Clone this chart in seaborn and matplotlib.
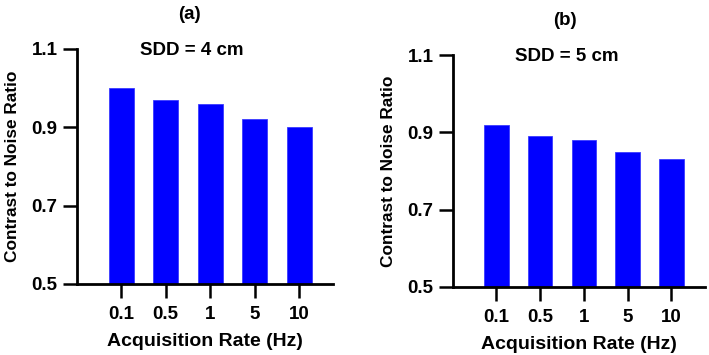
import matplotlib
matplotlib.use("Agg")
import matplotlib.pyplot as plt
import pandas as pd
import seaborn as sns

# Data
rates = ["0.1", "0.5", "1", "5", "10"]
cnr_sdd4 = [1.00, 0.97, 0.96, 0.92, 0.90]
cnr_sdd5 = [0.92, 0.89, 0.88, 0.85, 0.83]
yticks = [0.5, 0.7, 0.9, 1.1]

sns.set_theme(style="ticks")
plt.rcParams["font.family"] = ["Liberation Sans", "DejaVu Sans"]
plt.rcParams["font.weight"] = "bold"
plt.rcParams["text.color"] = "black"
plt.rcParams["axes.labelcolor"] = "black"
plt.rcParams["xtick.color"] = "black"
plt.rcParams["ytick.color"] = "black"

fig = plt.figure(figsize=(7.09, 3.55), dpi=100)
ax_a = fig.add_axes([0.1086, 0.200, 0.361, 0.662])
ax_b = fig.add_axes([0.639, 0.192, 0.355, 0.653])

panels = [
    (ax_a, cnr_sdd4, "SDD = 4 cm", "(a)", 0.267, 0.958),
    (ax_b, cnr_sdd5, "SDD = 5 cm", "(b)", 0.797, 0.942),
]

for ax, values, subtitle, letter, lx, ly in panels:
    df = pd.DataFrame({"rate": rates, "cnr": values})
    sns.barplot(data=df, x="rate", y="cnr", order=rates, color="#0000ff",
                saturation=1, width=0.56, edgecolor="#3a3aff", linewidth=0.6, ax=ax)
    ax.set_ylim(0.5, 1.1)
    ax.set_xlim(-0.99, 4.76)
    ax.set_yticks(yticks)
    ax.set_yticklabels([f"{t:.1f}" for t in yticks], fontsize=13.5, fontweight="bold")
    ax.set_xticks(range(len(rates)))
    ax.set_xticklabels(rates, fontsize=13.5, fontweight="bold")
    ax.set_xlabel("Acquisition Rate (Hz)", fontsize=14, fontweight="bold", labelpad=7)
    ax.set_ylabel("Contrast to Noise Ratio", fontsize=12.4, fontweight="bold", labelpad=8)
    ax.tick_params(axis="y", direction="out", length=10, width=1.8, color="black", pad=4)
    ax.tick_params(axis="x", direction="out", length=10, width=1.8, color="black", pad=6)
    for side in ["left", "bottom"]:
        ax.spines[side].set_linewidth(2)
        ax.spines[side].set_color("black")
    sns.despine(ax=ax)
    ax.text(0.45, 0.995, subtitle, transform=ax.transAxes, ha="center", va="center",
            fontsize=13.5, fontweight="bold")
    fig.text(lx, ly, letter, ha="center", va="center", fontsize=13.5, fontweight="bold")

fig.savefig("out.png", dpi=100)
